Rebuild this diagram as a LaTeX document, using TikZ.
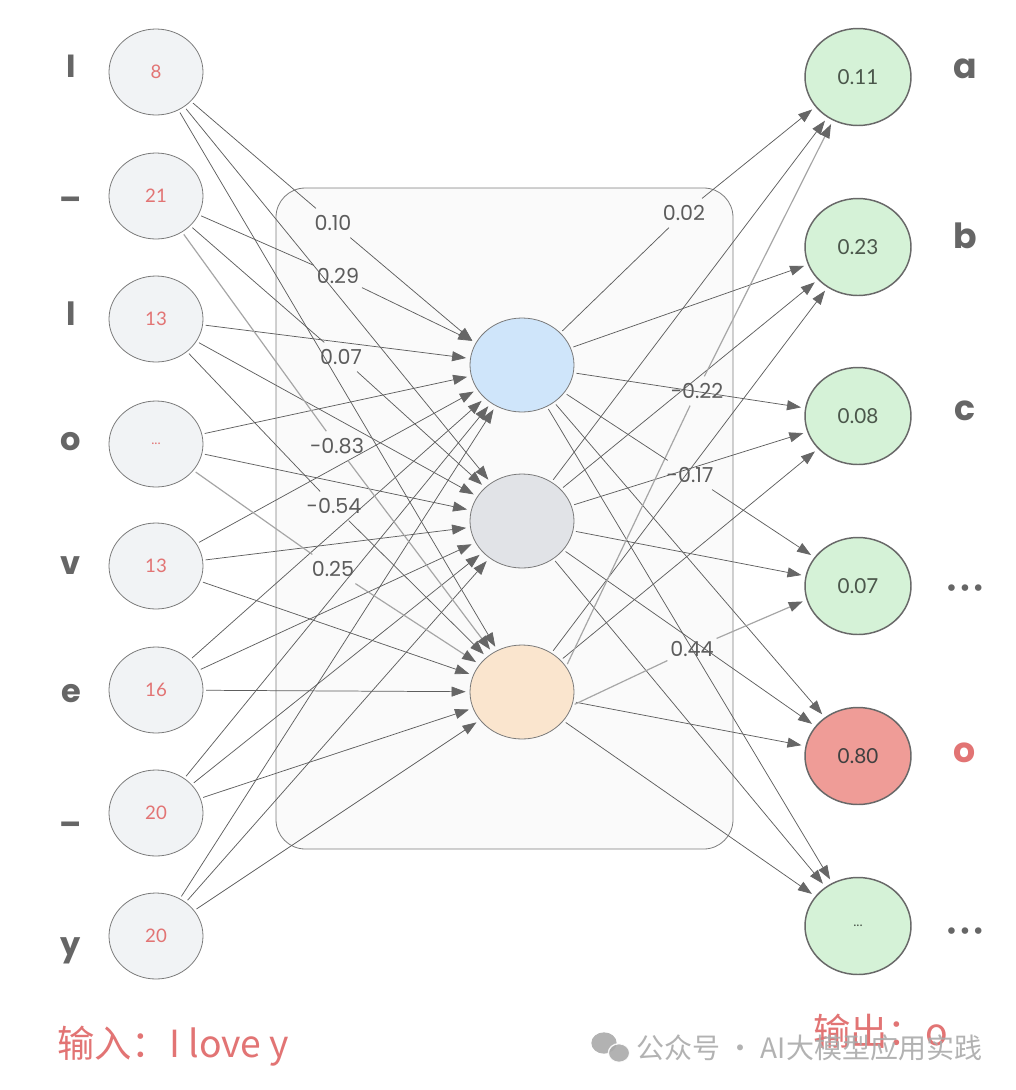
\documentclass[tikz,border=0pt]{standalone}
\usepackage{fontspec}
\setmainfont{Lato}
\newfontfamily\handfont{Poppins}
\newfontfamily\cjkfont{Noto Sans CJK SC}
\newfontfamily\dotfont{DejaVu Sans}
\usetikzlibrary{shapes.geometric,arrows.meta}
\definecolor{inred}{HTML}{E27474}
\definecolor{infill}{HTML}{F1F3F5}
\definecolor{nodestroke}{HTML}{7A7A7A}
\definecolor{outstroke}{HTML}{686868}
\definecolor{hblue}{HTML}{CFE5FA}
\definecolor{hgray}{HTML}{E1E3E7}
\definecolor{horange}{HTML}{FAE5CE}
\definecolor{ogreen}{HTML}{D5F2D7}
\definecolor{ored}{HTML}{EF9C97}
\definecolor{boxfill}{HTML}{FAFAFA}
\definecolor{boxstroke}{HTML}{7D7D7D}
\definecolor{edgecol}{HTML}{5E5E5E}
\definecolor{liteedge}{HTML}{A6A6A6}
\definecolor{tipcol}{HTML}{666666}
\definecolor{labcol}{HTML}{5C5C5C}
\definecolor{lettercol}{HTML}{666666}
\definecolor{outtext}{HTML}{4B574B}
\definecolor{wmgray}{HTML}{AAAAAA}
\begin{document}
\begin{tikzpicture}[x=0.75pt,y=-0.75pt,
  mainbox/.style={draw=boxstroke, fill=boxfill, line width=0.6pt, rounded corners=22pt,
    minimum width=342.75pt, minimum height=495.75pt, inner sep=0pt},
  innode/.style={ellipse, draw=nodestroke, line width=0.6pt, fill=infill,
    minimum width=70.5pt, minimum height=64.5pt, inner sep=0pt, text=inred,
    font=\fontsize{14}{16}\selectfont},
  hid/.style={ellipse, draw=nodestroke, line width=0.6pt,
    minimum width=78pt, minimum height=70.5pt, inner sep=0pt},
  outnode/.style={ellipse, draw=outstroke, line width=1.1pt, fill=ogreen,
    minimum width=79.5pt, minimum height=72.75pt, inner sep=0pt, text=outtext,
    font=\fontsize{15.5}{18}\selectfont},
  letter/.style={text=lettercol, font=\handfont\bfseries\fontsize{24}{27}\selectfont, anchor=base, inner sep=0pt},
  dots/.style={text=lettercol, font=\dotfont\fontsize{17}{20}\selectfont, anchor=base, inner sep=0pt},
  wlabel/.style={text=labcol, font=\handfont\fontsize{15.5}{18}\selectfont, inner xsep=2pt, inner ysep=5pt},
  seg/.style={draw=edgecol, line width=0.55pt, shorten <=2pt},
  arr/.style={draw=edgecol, line width=0.55pt, shorten <=2pt, shorten >=3pt,
    -{Triangle[length=10.5pt,width=7.5pt,color=tipcol]}},
  lite/.style={draw=liteedge, line width=0.9pt},
  redtext/.style={text=inred, font=\cjkfont\fontsize{28}{30}\selectfont, anchor=base west, inner sep=0pt},
  wmtext/.style={text=wmgray, font=\cjkfont\fontsize{21}{24}\selectfont, anchor=base west, inner sep=0pt, opacity=0.9}
]
\useasboundingbox (0,0) rectangle (1016,1090);
\fill[white] (0,0) rectangle (1016,1090);

% hidden layer box
\node[mainbox] (box) at (504.5,518.5) {};

% input nodes
\node[innode] (i1) at (156,72) {8};
\node[innode] (i2) at (156,196) {21};
\node[innode] (i3) at (156,319) {13};
\node[innode, font=\fontsize{10}{12}\selectfont] (i4) at (156,444) {...};
\node[innode] (i5) at (156,566) {13};
\node[innode] (i6) at (156,690) {16};
\node[innode] (i7) at (156,813) {20};
\node[innode] (i8) at (156,936) {20};

% input letters
\node[letter] (l1) at (71,77) {I};
\node[letter] (l2) at (71,210) {–};
\node[letter] (l3) at (71,325) {l};
\node[letter] (l4) at (71,450) {o};
\node[letter] (l5) at (71,574) {v};
\node[letter] (l6) at (71,702) {e};
\node[letter] (l7) at (71,835) {–};
\node[letter] (l8) at (71,955) {y};

% hidden nodes
\node[hid, fill=hblue] (h1) at (522,365) {};
\node[hid, fill=hgray] (h2) at (522,521) {};
\node[hid, fill=horange] (h3) at (522,692) {};

% output nodes
\node[outnode] (o1) at (858,77) {0.11};
\node[outnode] (o2) at (858,247) {0.23};
\node[outnode] (o3) at (858,416) {0.08};
\node[outnode] (o4) at (858,586) {0.07};
\node[outnode, fill=ored, text=black!75] (o5) at (858,756) {0.80};
\node[outnode, font=\fontsize{10}{12}\selectfont] (o6) at (858,926) {...};

% output letters
\node[letter, font=\handfont\bfseries\fontsize{26}{29}\selectfont] (r1) at (965,78) {a};
\node[letter, font=\handfont\bfseries\fontsize{26}{29}\selectfont] (r2) at (965,248) {b};
\node[letter, font=\handfont\bfseries\fontsize{26}{29}\selectfont] (r3) at (965,420) {c};
\node[dots] (r4) at (965,596) {•••};
\node[letter, text=inred, font=\handfont\bfseries\fontsize{26}{29}\selectfont] (r5) at (965,762) {o};
\node[dots] (r6) at (965,939) {•••};

% weight labels
\node[wlabel] (w1) at (333,223) {0.10};
\node[wlabel] (w2) at (338,276) {0.29};
\node[wlabel] (w3) at (341,357) {0.07};
\node[wlabel] (w4) at (337,446) {-0.83};
\node[wlabel] (w5) at (334,506) {-0.54};
\node[wlabel] (w6) at (333,569) {0.25};
\node[wlabel] (w7) at (684,213) {0.02};
\node[wlabel] (w8) at (697,391) {-0.22};
\node[wlabel] (w9) at (690,475) {-0.17};
\node[wlabel] (w10) at (692,649) {0.44};

% input -> hidden (unlabelled)
\foreach \a/\b in {1/2,1/3,3/1,3/2,4/1,4/2,5/1,5/2,5/3,6/1,6/2,6/3,7/1,7/2,7/3,8/1,8/2,8/3}
  \draw[arr] (i\a) -- (h\b);

% input -> hidden (labelled)
\draw[seg] (i1.-40) -- (w1); \draw[arr, shorten <=0pt] (w1) -- (h1.155);
\draw[seg] (i2) -- (w2); \draw[arr, shorten <=0pt] (w2) -- (h1);
\draw[seg] (i2) -- (w3); \draw[arr, shorten <=0pt] (w3) -- (h2);
\draw[seg, lite] (i2) -- (w4); \draw[arr, lite, shorten <=0pt] (w4) -- (h3);
\draw[seg] (i3) -- (w5); \draw[arr, shorten <=0pt] (w5) -- (h3);
\draw[seg, lite] (i4) -- (w6); \draw[arr, lite, shorten <=0pt] (w6) -- (h3);

% hidden -> output (unlabelled)
\foreach \a/\b in {1/2,1/3,1/5,1/6,2/1,2/2,2/3,2/4,2/5,2/6,3/2,3/3,3/5,3/6}
  \draw[arr] (h\a) -- (o\b);

% hidden -> output (labelled)
\draw[seg] (h1.40) -- (w7); \draw[arr, shorten <=0pt] (w7) -- (o1.215);
\draw[seg, lite] (h3.30) -- (w8); \draw[arr, lite, shorten <=0pt] (w8) -- (o1.240);
\draw[seg] (h1) -- (w9); \draw[arr, shorten <=0pt] (w9) -- (o4);
\draw[seg, lite] (h3.-15) -- (w10); \draw[arr, lite, shorten <=0pt] (w10) -- (o4.195);

% bottom texts
\node[redtext] (inp) at (57,1057) {输入：I love y};
\node[redtext] (outp) at (813,1045) {输出：o};

% watermark
\fill[wmgray, opacity=0.9] (604,1043) ellipse [x radius=9.5pt, y radius=8pt];
\filldraw[fill=wmgray, draw=white, line width=1pt, opacity=0.9] (619,1053) ellipse [x radius=8pt, y radius=7pt];
\node[wmtext] (wm) at (636,1058) {公众号 · AI大模型应用实践};
\end{tikzpicture}
\end{document}
